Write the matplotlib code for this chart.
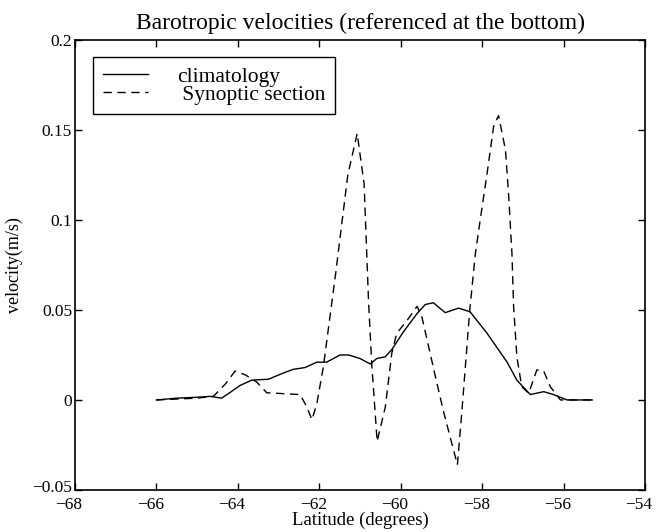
import numpy as np
import matplotlib
matplotlib.use("Agg")
import matplotlib.pyplot as plt
import matplotlib.transforms as mtransforms

plt.rcParams["font.family"] = ["Liberation Serif", "DejaVu Serif"]

# climatology (solid)
clim_lat = [-66.0, -65.5, -65.0, -64.68, -64.4, -64.2, -63.95, -63.66, -63.25, -62.88,
            -62.64, -62.35, -62.06, -61.82, -61.49, -61.28, -61.0, -60.75, -60.59, -60.38,
            -60.22, -59.93, -59.6, -59.4, -59.2, -58.91, -58.58, -58.3, -57.88, -57.39,
            -57.15, -56.82, -56.49, -56.25, -55.92, -55.6, -55.3]
clim_vel = [0.0, 0.001, 0.0015, 0.002, 0.001, 0.004, 0.008, 0.011, 0.0115, 0.015,
            0.017, 0.018, 0.021, 0.021, 0.025, 0.025, 0.023, 0.020, 0.023, 0.024,
            0.028, 0.038, 0.048, 0.053, 0.054, 0.0485, 0.051, 0.049, 0.037, 0.021,
            0.011, 0.003, 0.0046, 0.003, 0.0, 0.0, 0.0]

# synoptic section (dashed)
syn_lat = [-66.0, -65.5, -65.0, -64.6, -64.3, -64.07, -63.82, -63.54, -63.29, -62.72,
           -62.47, -62.31, -62.18, -62.06, -61.9, -61.6, -61.3, -61.07, -60.9, -60.79,
           -60.71, -60.58, -60.38, -60.22, -60.1, -59.85, -59.6, -59.48, -59.15, -58.95,
           -58.61, -58.5, -58.31, -58.17, -58.05, -57.88, -57.72, -57.6, -57.43, -57.35,
           -57.27, -57.23, -57.15, -57.03, -56.86, -56.66, -56.49, -56.33, -56.08, -55.7,
           -55.3]
syn_vel = [0.0, 0.0005, 0.001, 0.002, 0.009, 0.016, 0.014, 0.010, 0.004, 0.0033,
           0.003, -0.0037, -0.011, -0.002, 0.0185, 0.07, 0.125, 0.148, 0.12, 0.054,
           0.019, -0.023, -0.004, 0.026, 0.037, 0.044, 0.052, 0.046, 0.013, -0.0065,
           -0.036, -0.0065, 0.049, 0.081, 0.1, 0.126, 0.152, 0.158, 0.139, 0.113,
           0.081, 0.052, 0.024, 0.0074, 0.0037, 0.0167, 0.016, 0.0074, 0.0, 0.0,
           0.0]

xticks = [-68, -66, -64, -62, -60, -58, -56, -54]
yticks = [-0.05, 0, 0.05, 0.1, 0.15, 0.2]
ytick_labels = ["\u22120.05", "0", "0.05", "0.1", "0.15", "0.2"]
xtick_labels = ["\u2212%d" % abs(t) for t in xticks]

fig = plt.figure(figsize=(6.57, 5.32), dpi=100)
ax = fig.add_axes([0.114, 0.079, 0.868, 0.846])

ax.plot(clim_lat, clim_vel, color="black", lw=1.0, label="climatology")
ax.plot(syn_lat, syn_vel, color="black", lw=1.0, ls=(0, (6, 4)), label=" Synoptic section")

ax.set_xlim(-68, -54)
ax.set_ylim(-0.05, 0.2)
ax.set_xticks(xticks)
ax.set_xticklabels(xtick_labels)
ax.set_yticks(yticks)
ax.set_yticklabels(ytick_labels)
ax.tick_params(direction="in", top=True, right=True, labelsize=12.5, length=5, width=1)
ax.tick_params(axis="x", pad=5)
ax.tick_params(axis="y", pad=2)
for s in ax.spines.values():
    s.set_linewidth(1.2)

# x tick labels sit a little left of their ticks, as in the original
shift = mtransforms.ScaledTranslation(-0.06, 0, fig.dpi_scale_trans)
for lbl in ax.get_xticklabels():
    lbl.set_transform(lbl.get_transform() + shift)
# bottom y label nudged up so it clears the first x label
up = mtransforms.ScaledTranslation(0, 0.04, fig.dpi_scale_trans)
ylbl0 = ax.get_yticklabels()[0]
ylbl0.set_transform(ylbl0.get_transform() + up)

ax.set_title("Barotropic velocities (referenced at the bottom)", fontsize=17, pad=8)
ax.set_xlabel("Latitude (degrees)", fontsize=13.5, labelpad=-1)
ax.set_ylabel("velocity(m/s)", fontsize=13, labelpad=7)

leg = ax.legend(loc="upper left", bbox_to_anchor=(0.032, 0.962), borderaxespad=0,
                fontsize=15.5, handlelength=2.1, fancybox=False,
                edgecolor="black", framealpha=1, borderpad=0.45, labelspacing=-0.1,
                handletextpad=1.35)
leg.get_frame().set_linewidth(1.0)

fig.savefig("out.png", dpi=100)
